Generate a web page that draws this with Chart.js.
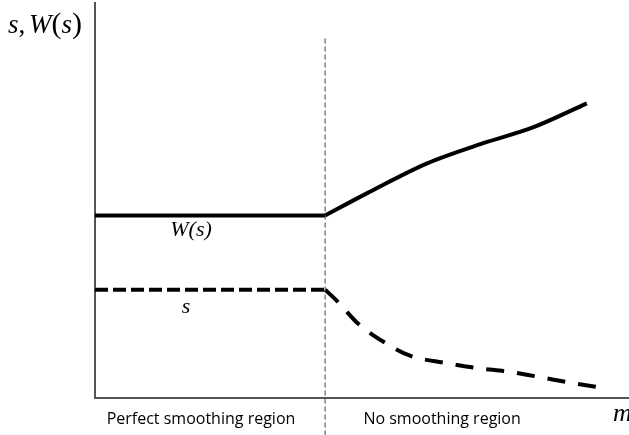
<!DOCTYPE html>
<html>
<head>
    <script src="https://cdn.jsdelivr.net/npm/chart.js"></script>
    <style>
        body { margin: 0; background: #fff; }
        #wrap { width: 629px; height: 435px; }
    </style>
</head>
<body>
    <div id="wrap"><canvas id="c"></canvas></div>
    <script>
        // values (arbitrary units, m on x, level on y)
        const wX = [0, 4.31, 5.09, 6.22, 7.27, 8.20, 9.21];
        const wY = [4.62, 4.62, 5.18, 5.94, 6.45, 6.85, 7.46];
        const sX = [0, 4.31, 4.53, 4.93, 5.43, 5.90, 6.55, 7.15, 7.77, 8.33, 8.93, 9.55];
        const sY = [2.74, 2.74, 2.46, 1.88, 1.40, 1.07, 0.89, 0.76, 0.66, 0.53, 0.38, 0.25];
        const divider = 4.31;
        const regionLabels = ['Perfect smoothing region', 'No smoothing region'];

        const pts = (xs, ys) => xs.map((x, i) => ({ x: x, y: ys[i] }));
        // flat part = first two points, curved part starts at the kink
        const wFlat = pts(wX, wY).slice(0, 2), wCurve = pts(wX, wY).slice(1);
        const sFlat = pts(sX, sY).slice(0, 2), sCurve = pts(sX, sY).slice(1);

        const annotations = {
            id: 'annotations',
            afterDatasetsDraw(chart) {
                const c = chart.ctx;
                const xs = chart.scales.x, ys = chart.scales.y;
                const dx = xs.getPixelForValue(divider);
                c.save();
                c.strokeStyle = '#444';
                c.lineWidth = 1;
                c.setLineDash([5, 3]);
                c.beginPath();
                c.moveTo(dx, ys.getPixelForValue(9.1));
                c.lineTo(dx, 435);
                c.stroke();
                c.setLineDash([]);

                c.fillStyle = '#000';
                c.textAlign = 'center';
                c.textBaseline = 'alphabetic';
                c.font = '16px "Open Sans", sans-serif';
                c.fillText(regionLabels[0], 201, ys.bottom + 26);
                c.fillText(regionLabels[1], xs.getPixelForValue(6.5), ys.bottom + 26);

                c.font = 'italic 22px "Liberation Serif", serif';
                c.fillText('W(s)', 191, 236);
                c.fillText('s', 186, 313);

                // axis title pieces: italic letters, upright punctuation
                c.textAlign = 'left';
                let x = 8;
                const part = (t, f) => { c.font = f; c.fillText(t, x, 33); x += c.measureText(t).width; };
                const it = 'italic 27px "Liberation Serif", serif', up = '27px "Liberation Serif", serif';
                part('s', it); part(', ', up); x -= 3; part('W', it); part('(', '30px "Liberation Serif", serif');
                part('s', it); part(')', '30px "Liberation Serif", serif');
                c.font = 'italic 26px "Liberation Serif", serif';
                c.fillText('m', 613, 421);
                c.restore();
            }
        };

        const line = (data, dash) => ({ data: data, showLine: true, borderColor: '#000', borderWidth: 4,
            borderDash: dash, pointRadius: 0, cubicInterpolationMode: 'monotone' });

        new Chart(document.getElementById('c'), {
            type: 'scatter',
            data: {
                datasets: [
                    line(wFlat, []), line(wCurve, []),
                    line(sFlat, [13, 5]), line(sCurve, [18, 13])
                ]
            },
            options: {
                responsive: true,
                maintainAspectRatio: false,
                animation: false,
                layout: { padding: { left: 87, top: 3, right: 0, bottom: 29 } },
                plugins: { legend: { display: false }, tooltip: { enabled: false } },
                scales: {
                    x: { type: 'linear', min: 0, max: 10, ticks: { display: false },
                         grid: { display: false }, border: { color: '#555', width: 2 } },
                    y: { type: 'linear', min: 0, max: 10, ticks: { display: false },
                         grid: { display: false }, border: { color: '#555', width: 2 } }
                }
            },
            plugins: [annotations]
        });
    </script>
</body>
</html>
